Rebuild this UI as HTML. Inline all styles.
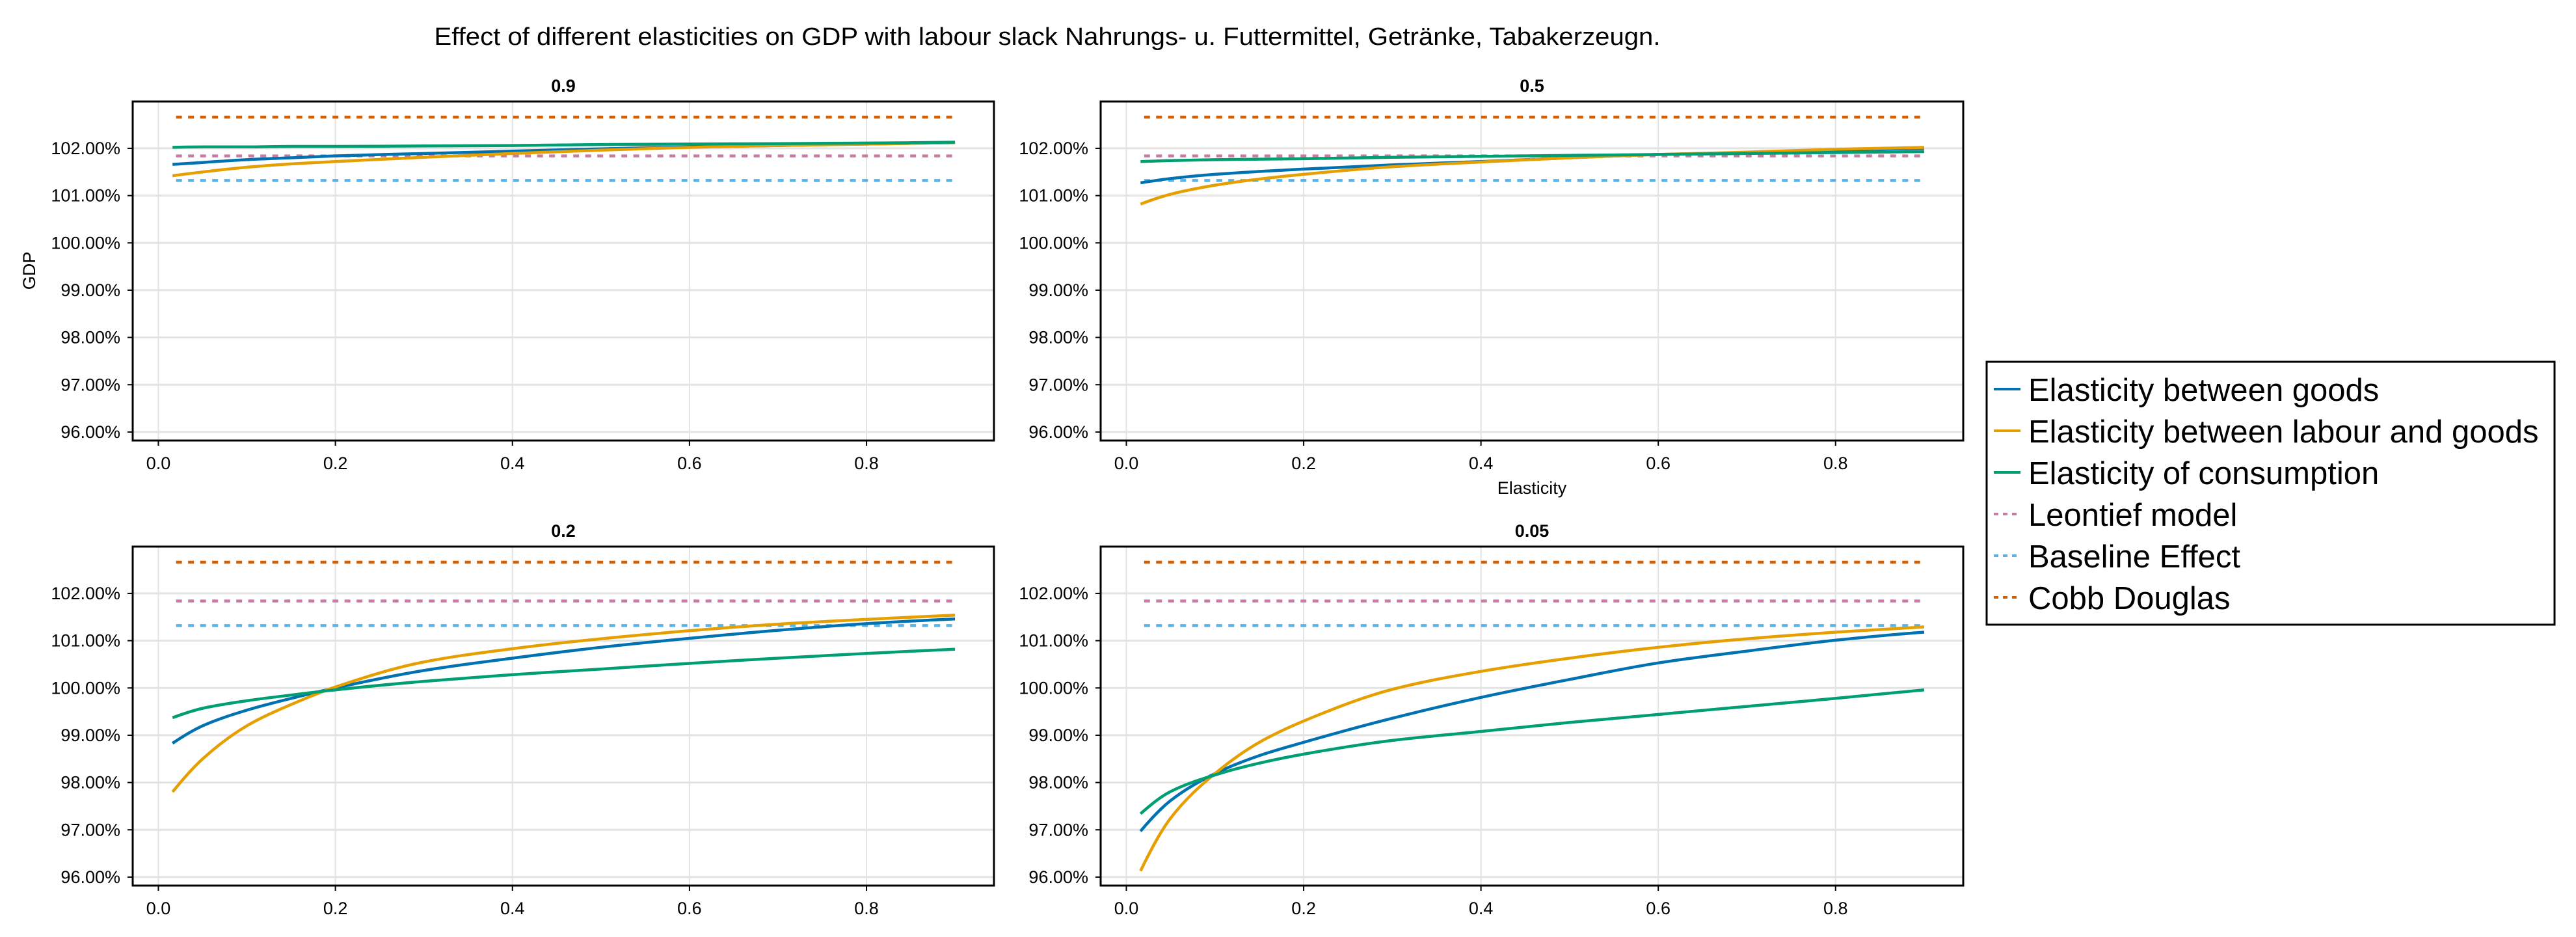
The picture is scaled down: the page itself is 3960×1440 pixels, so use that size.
<!DOCTYPE html>
<html><head><meta charset="utf-8"><style>
html,body{margin:0;padding:0;background:#fff;}
svg{display:block;font-family:"Liberation Sans",sans-serif;}
</style></head><body>
<svg id="chart" width="3960" height="1440" viewBox="0 0 3960 1440" xmlns="http://www.w3.org/2000/svg">
<text x="1610" y="69" font-size="38" text-anchor="middle" textLength="1885" lengthAdjust="spacingAndGlyphs">Effect of different elasticities on GDP with labour slack Nahrungs- u. Futtermittel, Getränke, Tabakerzeugn.</text>
<text transform="translate(54,416) rotate(-90)" font-size="27" text-anchor="middle">GDP</text>
<text x="2355" y="759" font-size="27" text-anchor="middle">Elasticity</text>
<g id="panels"></g>
<g>
<rect x="3054" y="556" width="873" height="404" fill="#fff" stroke="#000" stroke-width="3"/>
<g id="legend-items"></g>
</g>
</svg>
<script>
const xs = [0.016,0.05,0.1,0.15,0.2,0.3,0.4,0.5,0.6,0.7,0.8,0.9];
const panelTitles = ["0.9","0.5","0.2","0.05"];
const goods09 = [101.66,101.70,101.76,101.80,101.84,101.89,101.94,101.99,102.03,102.06,102.09,102.12];
const labour09 = [101.42,101.50,101.60,101.67,101.72,101.81,101.89,101.96,102.02,102.06,102.09,102.12];
const cons09 = [102.02,102.03,102.03,102.04,102.04,102.05,102.06,102.08,102.09,102.10,102.11,102.13];
const goods05 = [101.27,101.36,101.45,101.51,101.56,101.65,101.72,101.80,101.87,101.91,101.96,102.00];
const labour05 = [100.82,101.03,101.22,101.35,101.45,101.61,101.71,101.80,101.87,101.92,101.98,102.02];
const cons05 = [101.72,101.74,101.76,101.77,101.78,101.81,101.83,101.85,101.87,101.89,101.91,101.93];
const goods02 = [98.83,99.20,99.53,99.78,100.00,100.37,100.63,100.86,101.05,101.22,101.36,101.46];
const labour02 = [97.80,98.50,99.20,99.65,100.02,100.55,100.83,101.04,101.21,101.35,101.45,101.54];
const cons02 = [99.37,99.57,99.73,99.85,99.96,100.14,100.28,100.40,100.52,100.63,100.73,100.82];
const goods005 = [96.97,97.62,98.19,98.57,98.85,99.36,99.80,100.18,100.53,100.78,101.01,101.18];
const labour005 = [96.13,97.25,98.19,98.85,99.30,99.97,100.35,100.63,100.86,101.04,101.18,101.29];
const cons005 = [97.34,97.81,98.16,98.41,98.60,98.89,99.08,99.27,99.44,99.61,99.78,99.96];
const leontief = 101.84;
const baseline = 101.32;
const cobbDouglas = 102.66;
const yTicks = [96,97,98,99,100,101,102];
const xTicks = [0.0,0.2,0.4,0.6,0.8];
const seriesNames = ["Elasticity between goods","Elasticity between labour and goods","Elasticity of consumption","Leontief model","Baseline Effect","Cobb Douglas"];

const NS="http://www.w3.org/2000/svg";
function mk(tag, attrs, parent){const e=document.createElementNS(NS,tag);for(const k in attrs)e.setAttribute(k,attrs[k]);if(parent)parent.appendChild(e);return e;}
function smoothPath(P){
  const n=P.length, dx=[], m=[], t=[];
  for(let i=0;i<n-1;i++){dx.push(P[i+1][0]-P[i][0]);m.push((P[i+1][1]-P[i][1])/dx[i]);}
  t[0]=m[0];t[n-1]=m[n-2];
  for(let i=1;i<n-1;i++){
    const h0=dx[i-1],h1=dx[i];
    t[i]=(m[i-1]*m[i]<=0)?0:3*(h0+h1)/((2*h1+h0)/m[i-1]+(h1+2*h0)/m[i]);
  }
  // endpoint tangents: one-sided three-point estimate
  t[0]=((2*dx[0]+dx[1])*m[0]-dx[0]*m[1])/(dx[0]+dx[1]);
  if(t[0]*m[0]<=0)t[0]=0; else if(Math.abs(t[0])>3*Math.abs(m[0]))t[0]=3*m[0];
  const a=dx[n-2],b=dx[n-3];
  t[n-1]=((2*a+b)*m[n-2]-a*m[n-3])/(a+b);
  if(t[n-1]*m[n-2]<=0)t[n-1]=0;
  let d='M'+P[0][0].toFixed(1)+','+P[0][1].toFixed(1);
  for(let i=0;i<n-1;i++){
    const h=dx[i]/3;
    d+=' C'+(P[i][0]+h).toFixed(1)+','+(P[i][1]+t[i]*h).toFixed(1)+' '+(P[i+1][0]-h).toFixed(1)+','+(P[i+1][1]-t[i+1]*h).toFixed(1)+' '+P[i+1][0].toFixed(1)+','+P[i+1][1].toFixed(1);
  }
  return d;
}
const colors=["#0072b2","#e69f00","#009e73","#cc79a7","#56b4e9","#d55e00"];
const panelData=[[goods09,labour09,cons09],[goods05,labour05,cons05],[goods02,labour02,cons02],[goods005,labour005,cons005]];
const boxes=[[204,156,1528,677],[1692,156,3018,677],[204,840,1528,1361],[1692,840,3018,1361]];
const xMin=-0.029,xMax=0.944,yMin=95.82,yMax=102.99;
const root=document.getElementById('panels');
boxes.forEach((b,i)=>{
  const [L,T,R,B]=b;
  const sx=v=>L+(v-xMin)/(xMax-xMin)*(R-L);
  const sy=v=>B-(v-yMin)/(yMax-yMin)*(B-T);
  const g=mk('g',{},root);
  
  
  const t=mk('text',{x:(L+R)/2,y:T-15,'font-size':27,'font-weight':'bold','text-anchor':'middle'},g);
  t.textContent=panelTitles[i];
  
  
  xTicks.forEach(v=>{
    const gl=mk('line',{x1:sx(v),x2:sx(v),y1:T,y2:B,stroke:'#e3e3e3','stroke-width':2},g);
    
    
    mk('line',{x1:sx(v),x2:sx(v),y1:B,y2:B+8,stroke:'#000','stroke-width':2},g);
    const tl=mk('text',{x:sx(v),y:B+44,'font-size':27,'text-anchor':'middle'},g);
    tl.textContent=v.toFixed(1);
    
    
  });
  yTicks.forEach(v=>{
    const gl=mk('line',{x1:L,x2:R,y1:sy(v),y2:sy(v),stroke:'#e3e3e3','stroke-width':3},g);
    
    
    mk('line',{x1:L-8,x2:L,y1:sy(v),y2:sy(v),stroke:'#000','stroke-width':2},g);
    const tl=mk('text',{x:L-19,y:sy(v)+9,'font-size':27,'text-anchor':'end'},g);
    tl.textContent=v.toFixed(2)+'%';
    
    
  });
  [leontief,baseline,cobbDouglas].forEach((v,k)=>{
    const l=mk('line',{x1:sx(0.02),x2:sx(0.9),y1:sy(v),y2:sy(v),stroke:colors[3+k],'stroke-width':4.5,'stroke-dasharray':'9 9.5'},g);
    
    
  });
  panelData[i].forEach((arr,k)=>{
    const pts=arr.map((v,j)=>[sx(xs[j]),sy(v)]);
    const p=mk('path',{d:smoothPath(pts),fill:'none',stroke:colors[k],'stroke-width':4.5,'stroke-linejoin':'round'},g);
    
    
  });
  const fr=mk('rect',{x:L,y:T,width:R-L,height:B-T,fill:'none',stroke:'#000','stroke-width':3},g);
  
  
});
const lg=document.getElementById('legend-items');
seriesNames.forEach((n,i)=>{
  const y=598+i*64;
  const g=mk('g',{},lg);
  
  
  const attrs={x1:3065,x2:3106,y1:y,y2:y,stroke:colors[i],'stroke-width':4};
  if(i>=3)attrs['stroke-dasharray']='7 7';
  mk('line',attrs,g);
  const t=mk('text',{x:3118,y:y+18,'font-size':49},g);
  t.textContent=n;
});
</script>
</body></html>
